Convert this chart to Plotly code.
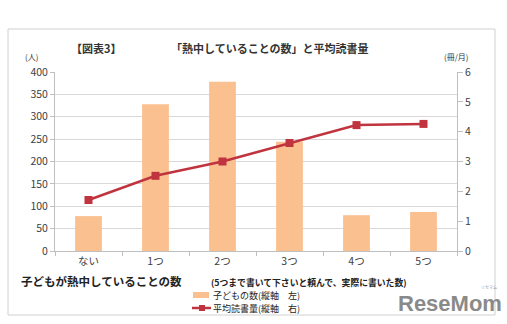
import plotly.graph_objects as go

# Data
categories = ["ない", "1つ", "2つ", "3つ", "4つ", "5つ"]
children_count = [78, 328, 378, 244, 80, 87]          # 子どもの数 (left axis, 人)
avg_reading = [1.71, 2.52, 3.00, 3.62, 4.22, 4.26]   # 平均読書量 (right axis, 冊/月)
left_ticks = [0, 50, 100, 150, 200, 250, 300, 350, 400]
right_ticks = [0, 1, 2, 3, 4, 5, 6]
legend_labels = ["子どもの数(縦軸　左)", "平均読書量(縦軸　右)"]

W, H = 507, 324
L, R, T, B = 55, 457, 72, 251  # plot area in pixels

BAR_COLOR = "#FAC090"
LINE_COLOR = "#C0343F"


def px(x):
    return (x - L) / (R - L)


def py(y):
    return (B - y) / (B - T)


FONT = "Noto Sans CJK JP"
TXT = "#404040"

fig = go.Figure()
fig.add_trace(go.Bar(
    x=categories, y=children_count, name=legend_labels[0],
    marker=dict(color=BAR_COLOR, line=dict(width=0)), yaxis="y",
))
fig.add_trace(go.Scatter(
    x=categories, y=avg_reading, name=legend_labels[1], yaxis="y2",
    mode="lines+markers",
    line=dict(color=LINE_COLOR, width=2.5),
    marker=dict(symbol="square", size=8, color=LINE_COLOR),
))

annotations = [
    dict(text="<b>【図表3】</b>", x=px(96), y=py(48), font=dict(size=11, color="#333")),
    dict(text="<b>「熱中していることの数」と平均読書量</b>", x=px(270), y=py(48),
         font=dict(size=11, color="#333")),
    dict(text="(人)", x=px(31), y=py(57), font=dict(size=8, color="#333")),
    dict(text="(冊/月)", x=px(456), y=py(57), font=dict(size=8, color="#333")),
    dict(text="<b>子どもが熱中していることの数</b>", x=px(101), y=py(281),
         font=dict(size=11.5, color="#222")),
    dict(text="<b>(5つまで書いて下さいと頼んで、実際に書いた数)</b>", x=px(309), y=py(282),
         font=dict(size=8.8, color="#222")),
    dict(text=legend_labels[0], x=px(211), y=py(295.5), xanchor="left",
         font=dict(size=9, color="#222")),
    dict(text=legend_labels[1], x=px(211), y=py(308.5), xanchor="left",
         font=dict(size=9, color="#222")),
    dict(text="<b>ReseMom</b>", x=px(450), y=py(303),
         font=dict(size=22, color="#8a8a8a", family="Liberation Sans")),
    dict(text="リセマム", x=px(489), y=py(287), font=dict(size=4, color="#999")),
]
for a in annotations:
    a.update(xref="paper", yref="paper", showarrow=False, yanchor="middle")
    a.setdefault("xanchor", "center")
    a["font"].setdefault("family", FONT)

shapes = [
    # chart frame
    dict(type="rect", x0=px(8), x1=px(495), y0=py(315), y1=py(29),
         line=dict(color="#d0d0d0", width=1), fillcolor="rgba(0,0,0,0)", layer="below"),
    # legend keys
    dict(type="rect", x0=px(193), x1=px(209), y0=py(298), y1=py(292),
         line=dict(width=0), fillcolor=BAR_COLOR),
    dict(type="line", x0=px(192), x1=px(211), y0=py(308), y1=py(308),
         line=dict(color=LINE_COLOR, width=2.5)),
    dict(type="rect", x0=px(199), x1=px(205), y0=py(311), y1=py(305),
         line=dict(width=0), fillcolor=LINE_COLOR),
]
for s in shapes:
    s.update(xref="paper", yref="paper")

fig.update_layout(
    width=W, height=H,
    margin=dict(l=L, r=W - R, t=T, b=H - B),
    paper_bgcolor="white", plot_bgcolor="white",
    font=dict(family=FONT, size=10, color=TXT),
    bargap=0.6,
    showlegend=False,
    xaxis=dict(
        type="category", tickson="boundaries", ticks="outside", ticklen=4,
        tickcolor="#bfbfbf", showline=True, linecolor="#bfbfbf", linewidth=1,
        showgrid=False, tickfont=dict(size=10.5, color=TXT),
    ),
    yaxis=dict(
        range=[0, 400], tickvals=left_ticks, showgrid=True, gridcolor="#d9d9d9",
        gridwidth=1, ticks="outside", ticklen=4, tickcolor="#bfbfbf",
        showline=True, linecolor="#bfbfbf", zeroline=False,
        tickfont=dict(size=10.5, color=TXT),
    ),
    yaxis2=dict(
        range=[0, 6], tickvals=right_ticks, overlaying="y", side="right",
        showgrid=False, ticks="outside", ticklen=5, tickcolor="#bfbfbf",
        showline=True, linecolor="#bfbfbf", zeroline=False,
        tickfont=dict(size=10.5, color=TXT),
    ),
    annotations=annotations,
    shapes=shapes,
)

fig.write_html("out.html")
